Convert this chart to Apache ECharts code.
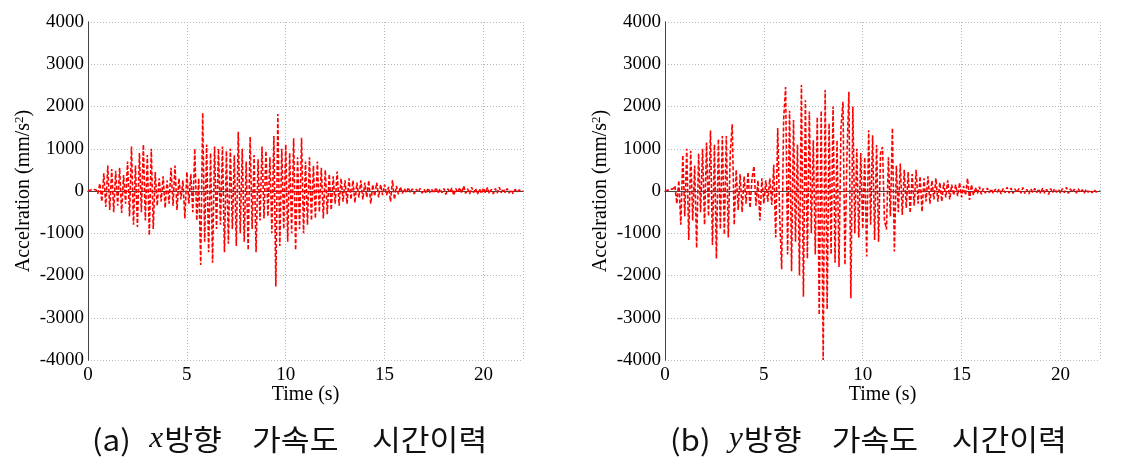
<!DOCTYPE html>
<html>
<head>
<meta charset="utf-8">
<script src="https://cdn.jsdelivr.net/npm/echarts@6/dist/echarts.min.js"></script>
<style>html,body{margin:0;padding:0;background:#fff;}#c{width:1121px;height:467px;}</style>
</head>
<body>
<div id="c"></div>
<script>
// sample spacing of the records (s)
const dt = 0.1;
const xTicks = [0, 5, 10, 15, 20];
const yTicks = [-4000, -3000, -2000, -1000, 0, 1000, 2000, 3000, 4000];

// x-direction acceleration (mm/s^2), one value per 0.1 s from 0 to 22 s
const accX = [
  0, 20, 40, 60, 30, -60, 180, -250, 420, -380,
  600, -450, 520, -500, 480, -350, 550, -520, 380, -300,
  700, -600, 1050, -800, 600, -850, 900, -500, 1100, -700,
  850, -1050, 1000, -900, 450, -350, 300, -250, 350, -400,
  250, -300, 550, -350, 600, -450, 300, -200, 250, -650,
  450, -300, 400, -500, 1000, -700, 300, -1750, 1850, -1200,
  1100, -1450, 900, -1700, 1050, -900, 1000, -800, 1050, -1450,
  950, -1250, 1000, -900, 850, -1300, 1400, -1000, 1000, -1200,
  700, -1400, 1280, -900, 850, -1450, 750, -700, 1050, -650,
  950, -600, 800, -1000, 1300, -2260, 1820, -1300, 1000, -900,
  1100, -1200, 900, -1000, 1250, -1400, 800, -900, 1260, -1000,
  700, -800, 800, -700, 600, -650, 700, -500, 550, -650,
  500, -550, 400, -450, 350, -300, 460, -350, 300, -250,
  250, -300, 300, -200, 250, -280, 200, -150, 250, -200,
  200, -150, 250, -300, 150, -120, 200, -150, 150, -100,
  150, -100, 100, -250, 260, -200, 120, -80, 100, -60,
  60, -50, 80, -40, 50, -70, 40, -30, 60, -50,
  40, -60, 70, -40, 30, -50, 80, -60, 50, -40,
  60, -80, 50, -30, 70, -100, 60, -40, 80, -50,
  120, -60, 50, -70, 90, -40, 60, -80, 50, -60,
  70, -50, 80, -60, 40, -70, 60, -50, 90, -40,
  50, -40, 60, -50, 30, -60, 40, -30, 20, -10,
  0
];

// y-direction acceleration (mm/s^2), one value per 0.1 s from 0 to 22 s
const accY = [
  0, 20, 30, 60, 50, 120, -300, 250, -800, 850,
  -600, 1000, -1160, 950, -700, 600, -1350, 890, -500, 1000,
  -800, 1150, -600, 1430, -1280, 1100, -1600, 1230, -900, 1300,
  -1030, 1300, -1100, 900, 1580, -800, 500, -450, 400, -500,
  350, -300, 450, -400, 300, 590, -350, 250, -700, 300,
  -300, 250, -250, 300, -330, 620, -1100, 1490, -600, -1850,
  1700, 2460, -1500, 1900, -1900, 1680, -1200, 1100, -2000, 2510,
  -2500, 2150, -1600, 1880, -1000, 1200, -1500, 1750, -2930, 1900,
  -4000, 2390, -2800, 1600, -1500, 2000, -1700, 1200, -1800, 1500,
  2110, -1750, 800, 2350, -2540, 2000, -1000, 1000, -1100, 900,
  -900, 800, -1550, 1440, -800, 1320, -1160, 1090, -1200, 900,
  1040, -700, -910, 800, -600, 1490, -1430, 600, -500, 650,
  -570, 500, -400, 450, -520, 400, -350, 500, -300, 350,
  -490, 300, -250, 350, -300, 250, -200, 300, -250, 200,
  -250, 200, -150, 250, -200, 150, -100, 150, -120, 200,
  -150, 120, -100, 300, -210, 150, -100, 80, -60, 100,
  -80, 60, -50, 70, -40, 50, -60, 40, -30, 50,
  -70, 60, -40, 90, -50, 70, -60, 50, -40, 60,
  -50, 80, -60, 40, -70, 50, -30, 60, -40, 50,
  -60, 70, -50, 40, -80, 60, -40, 50, -30, 40,
  -50, 60, -40, 90, -60, 50, -30, 40, -50, 60,
  -40, 30, -50, 40, -30, 20, -40, 30, -20, 10,
  0
];

const captionA = ['(a)', 'x', '방향', '가속도', '시간이력'];
const captionB = ['(b)', 'y', '방향', '가속도', '시간이력'];

const pairs = arr => arr.map((v, i) => [Math.round(i * dt * 10) / 10, v]);

const serif = 'Liberation Serif';
const axisCol = '#444';
const gridCol = '#b8b8b8';

function xAxisDef(gi) {
  return [{
    type: 'value', gridIndex: gi, min: 0, max: 22, interval: 5,
    axisLine: { show: true, lineStyle: { color: axisCol, width: 1 } },
    axisTick: { show: false },
    axisLabel: { show: true, color: '#000', fontFamily: serif, fontSize: 19, margin: 6, showMaxLabel: false,
      formatter: v => xTicks.includes(v) ? String(v) : '' },
    splitLine: { show: true, lineStyle: { color: gridCol, type: [1, 2], width: 1 } },
    name: 'Time (s)', nameLocation: 'middle', nameGap: 25, nameMoveOverlap: false,
    nameTextStyle: { color: '#000', fontFamily: serif, fontSize: 20 }
  }, {
    type: 'value', gridIndex: gi, position: 'top', min: 0, max: 22, interval: 5,
    axisLine: { show: true, lineStyle: { color: axisCol, width: 1 } },
    axisTick: { show: false },
    axisLabel: { show: false }, splitLine: { show: false }
  }];
}
function yAxisDef(gi) {
  return [{
    type: 'value', gridIndex: gi, min: -4000, max: 4000, interval: 1000,
    axisLine: { show: true, lineStyle: { color: axisCol, width: 1 } },
    axisTick: { show: false },
    axisLabel: { show: true, color: '#000', fontFamily: serif, fontSize: 19, margin: 4,
      formatter: v => yTicks.includes(v) ? String(v) : '' },
    splitLine: { show: true, lineStyle: { color: gridCol, type: [1, 2], width: 1 } },
    name: 'Accelration (mm/s{sup|2})', nameLocation: 'middle', nameGap: 53, nameMoveOverlap: false,
    nameTextStyle: { color: '#000', fontFamily: serif, fontSize: 20,
      rich: { sup: { fontFamily: serif, fontSize: 13, color: '#000', verticalAlign: 'top', padding: [0, 0, 9, 0] } } }
  }, {
    type: 'value', gridIndex: gi, position: 'right', min: -4000, max: 4000, interval: 1000,
    axisLine: { show: true, lineStyle: { color: axisCol, width: 1 } },
    axisTick: { show: false },
    axisLabel: { show: false }, splitLine: { show: false }
  }];
}

function caption(parts, left) {
  const k = { fontFamily: 'Noto Sans CJK KR', fontSize: 29, fill: '#111', color: '#111' };
  return {
    type: 'text', x: left, y: 425, scaleX: 1.08, scaleY: 1,
    style: {
      text: '{a|' + parts[0] + '}{m|' + parts[1] + '}{k1|' + parts[2] + '}{k2|' + parts[3] + '}{k3|' + parts[4] + '}',
      font: '29px "Noto Sans CJK KR"', fill: '#111', align: 'left', verticalAlign: 'top',
      textAlign: 'left', textVerticalAlign: 'top',
      rich: {
        a: Object.assign({}, k, { padding: [0, 17, 0, 0] }),
        m: { fontFamily: serif, fontStyle: 'italic', fontSize: 29, fill: '#111', color: '#111', padding: [0, 1, 0, 0] },
        k1: Object.assign({}, k, { padding: [0, 28, 0, 0] }),
        k2: Object.assign({}, k, { padding: [0, 31, 0, 0] }),
        k3: Object.assign({}, k)
      }
    }
  };
}

const chart = echarts.init(document.getElementById('c'), null, { renderer: 'canvas' });
chart.setOption({
  animation: false,
  backgroundColor: '#fff',
  grid: [
    { left: 88, right: 598, top: 22, bottom: 107 },
    { left: 665, right: 21, top: 22, bottom: 107 }
  ],
  xAxis: [...xAxisDef(0), ...xAxisDef(1)],
  yAxis: [...yAxisDef(0), ...yAxisDef(1)],
  series: [
    { type: 'line', xAxisIndex: 0, yAxisIndex: 0, data: pairs(accX), showSymbol: false, symbol: 'none',
      lineStyle: { color: '#ff0000', width: 1.6, type: [4, 2] } },
    { type: 'line', xAxisIndex: 2, yAxisIndex: 2, data: pairs(accY), showSymbol: false, symbol: 'none',
      lineStyle: { color: '#ff0000', width: 1.6, type: [4, 2] } }
  ],
  graphic: [caption(captionA, 92), caption(captionB, 670)]
});
</script>
</body>
</html>
